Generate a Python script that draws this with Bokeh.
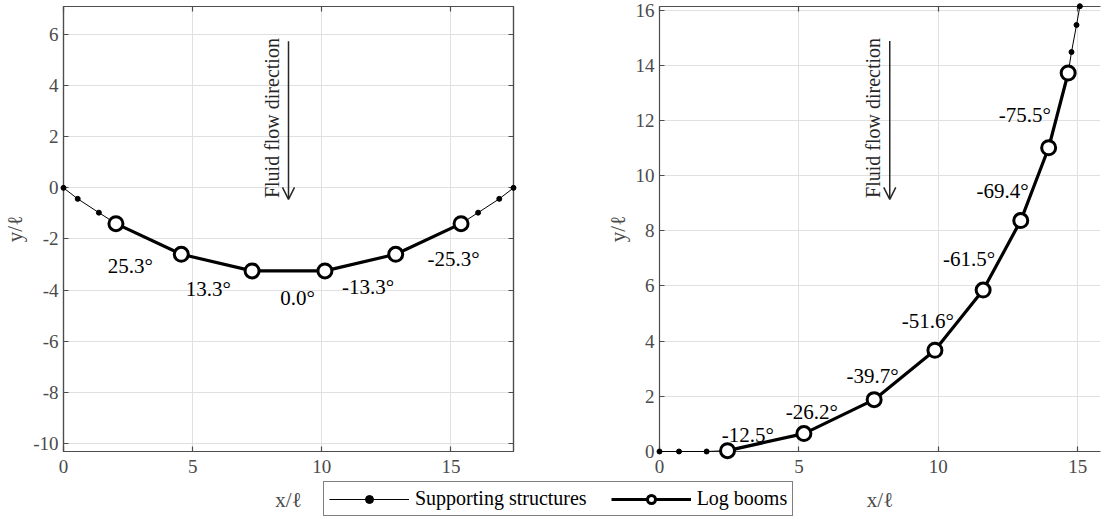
import math
from bokeh.plotting import figure
from bokeh.models import (Range1d, LinearAxis, SingleIntervalTicker, Legend, LegendItem,
                          Arrow, OpenHead, Label, ColumnDataSource, CustomJSTickFormatter)
from bokeh.layouts import row, column
from bokeh.embed import file_html
from bokeh.resources import INLINE
from bokeh.core.properties import value

NAN = float("nan")
FONT = "Liberation Serif"
AX = "#4d4d4d"
AXT = "#4a4a4a"
GRID = "#e0e0e0"

# ---------------- data: left panel (symmetric) ----------------
left_support_x = [0.0, 0.55, 1.37, 2.03, NAN, 15.39, 16.05, 16.87, 17.42]
left_support_y = [0.0, -0.43, -0.97, -1.40, NAN, -1.40, -0.97, -0.43, 0.0]
left_boom_x = [2.03, 4.56, 7.30, 10.12, 12.86, 15.39]
left_boom_y = [-1.40, -2.60, -3.25, -3.25, -2.60, -1.40]
left_angle_text = ["25.3°", "13.3°", "0.0°", "-13.3°", "-25.3°"]
left_angle_x = [1.71, 4.73, 8.39, 10.78, 14.09]
left_angle_y = [-3.05, -3.94, -4.33, -3.87, -2.78]

# ---------------- data: right panel ----------------
right_support_x = [0.0, 0.70, 1.69, 2.44, NAN, 14.66, 14.78, 14.96, 15.08]
right_support_y = [0.0, 0.0, 0.0, 0.03, NAN, 13.72, 14.48, 15.46, 16.14]
right_boom_x = [2.44, 5.18, 7.70, 9.88, 11.61, 12.96, 13.96, 14.66]
right_boom_y = [0.03, 0.65, 1.88, 3.67, 5.85, 8.37, 11.01, 13.72]
right_angle_text = ["-12.5°", "-26.2°", "-39.7°", "-51.6°", "-61.5°", "-69.4°", "-75.5°"]
right_angle_x = [2.23, 4.53, 6.71, 8.69, 10.17, 11.37, 12.17]
right_angle_y = [0.59, 1.42, 2.75, 4.72, 6.98, 9.43, 12.19]

x_label = "x/ℓ"
y_label = "y/ℓ"
flow_text = "Fluid flow direction"
legend_labels = ["Supporting structures", "Log booms"]

FRAME_H = 445
MB_TOP = 6
MB_BOT = 66


def style_axis(ax, labels=True):
    ax.axis_line_color = AX
    ax.axis_line_width = 1.2
    ax.major_tick_in = 5
    ax.major_tick_out = 0
    ax.major_tick_line_color = AX
    ax.major_tick_line_width = 1.2
    ax.minor_tick_line_color = None
    if labels:
        ax.formatter = CustomJSTickFormatter(code="return tick.toFixed(0)")
        ax.major_label_text_font = FONT
        ax.major_label_text_font_size = "19px"
        ax.major_label_text_color = AXT
        ax.axis_label_text_font = FONT
        ax.axis_label_text_font_style = "normal"
        ax.axis_label_text_font_size = "21px"
        ax.axis_label_text_color = AXT
    else:
        ax.formatter = CustomJSTickFormatter(code="return ''")
        ax.major_label_text_font_size = "1px"
        ax.major_label_standoff = 0
        ax.major_label_text_color = None


def make_panel(xr, yr, fw, mbl, mbr):
    p = figure(x_range=Range1d(*xr), y_range=Range1d(*yr),
               frame_width=fw, frame_height=FRAME_H,
               min_border_left=mbl, min_border_right=mbr,
               min_border_top=MB_TOP, min_border_bottom=MB_BOT,
               output_backend="svg", toolbar_location=None)
    p.border_fill_color = None
    p.background_fill_color = "white"
    xt = SingleIntervalTicker(interval=5, num_minor_ticks=0)
    yt = SingleIntervalTicker(interval=2, num_minor_ticks=0)
    p.xaxis.ticker = xt
    p.yaxis.ticker = yt
    p.xgrid.ticker = xt
    p.ygrid.ticker = yt
    for g in (p.xgrid, p.ygrid):
        g.grid_line_color = GRID
        g.grid_line_width = 1
    style_axis(p.xaxis[0])
    style_axis(p.yaxis[0])
    p.xaxis.axis_label = x_label
    p.yaxis.axis_label = y_label
    p.xaxis.major_label_standoff = 8
    p.xaxis.axis_label_standoff = 12
    p.yaxis.major_label_standoff = 5
    p.yaxis.axis_label_standoff = 3
    top = LinearAxis(ticker=xt)
    style_axis(top, labels=False)
    p.add_layout(top, "above")
    return p, xt, yt


def draw(p, sx, sy, bx, by, ax, ay, at):
    l1 = p.line(sx, sy, line_color="black", line_width=1, level="overlay")
    s1 = p.scatter(sx, sy, size=5, fill_color="black", line_color="black", level="overlay")
    l2 = p.line(bx, by, line_color="black", line_width=3.2, level="overlay")
    c2 = p.scatter(bx, by, size=14, fill_color="white", line_color="black",
                   line_width=3, level="overlay")
    src = ColumnDataSource(dict(x=ax, y=ay, t=at))
    p.text(x="x", y="y", text="t", source=src, text_font=value(FONT),
           text_font_size="21px", text_align="left", text_baseline="alphabetic",
           text_color="black")
    return l1, s1, l2, c2


# ---------------- left panel ----------------
p1, xt1, yt1 = make_panel((0, 17.42), (-10.32, 7.1), 450, 63, 287)
p1.outline_line_color = AX
p1.outline_line_width = 1.2
rax = LinearAxis(ticker=yt1)
style_axis(rax, labels=False)
p1.add_layout(rax, "right")
draw(p1, left_support_x, left_support_y, left_boom_x, left_boom_y,
     left_angle_x, left_angle_y, left_angle_text)
p1.add_layout(Arrow(end=OpenHead(size=12, line_width=1.5, line_color="#262626"),
                    x_start=8.71, y_start=5.74, x_end=8.71, y_end=-0.45,
                    line_width=1.5, line_color="#262626"))
p1.add_layout(Label(x=8.08, y=-0.40, text=flow_text, angle=math.pi / 2,
                    text_align="left", text_baseline="middle",
                    text_font=FONT, text_font_size="20px", text_color="#262626"))

# ---------------- right panel ----------------
p2, xt2, yt2 = make_panel((0, 15.82), (0, 16.13), 441, 70, 2)
p2.outline_line_color = None
draw(p2, right_support_x, right_support_y, right_boom_x, right_boom_y,
     right_angle_x, right_angle_y, right_angle_text)
p2.add_layout(Arrow(end=OpenHead(size=12, line_width=1.5, line_color="#262626"),
                    x_start=8.26, y_start=14.88, x_end=8.26, y_end=9.14,
                    line_width=1.5, line_color="#262626"))
p2.add_layout(Label(x=7.67, y=9.19, text=flow_text, angle=math.pi / 2,
                    text_align="left", text_baseline="middle",
                    text_font=FONT, text_font_size="20px", text_color="#262626"))
p2.margin = (0, 0, 0, -211)

# ---------------- shared legend (its own small canvas) ----------------
pl = figure(x_range=Range1d(0, 1), y_range=Range1d(0, 1), frame_width=480, frame_height=40,
            min_border=0, x_axis_location=None, y_axis_location=None,
            output_backend="svg", toolbar_location=None)
pl.grid.visible = False
pl.outline_line_color = None
pl.background_fill_color = None
pl.border_fill_color = None
g1 = pl.line([NAN], [NAN], line_color="black", line_width=1)
g2 = pl.scatter([NAN], [NAN], size=5, fill_color="black", line_color="black")
g3 = pl.line([NAN], [NAN], line_color="black", line_width=3.2)
g4 = pl.scatter([NAN], [NAN], size=14, fill_color="white", line_color="black", line_width=3)
legend = Legend(items=[LegendItem(label=legend_labels[0], renderers=[g1, g2]),
                       LegendItem(label=legend_labels[1], renderers=[g3, g4])],
                location=(0, 0), orientation="horizontal",
                glyph_width=80, glyph_height=20, label_standoff=6, spacing=24,
                padding=5, margin=0, border_line_color="black", border_line_width=1,
                background_fill_color="white", background_fill_alpha=1,
                label_text_font=FONT, label_text_font_size="20px",
                label_text_color="black")
pl.add_layout(legend)
pl.margin = (-41, 0, 0, 323)

layout = column(row(p1, p2), pl)
open("out.html", "w").write(file_html(layout, INLINE))
